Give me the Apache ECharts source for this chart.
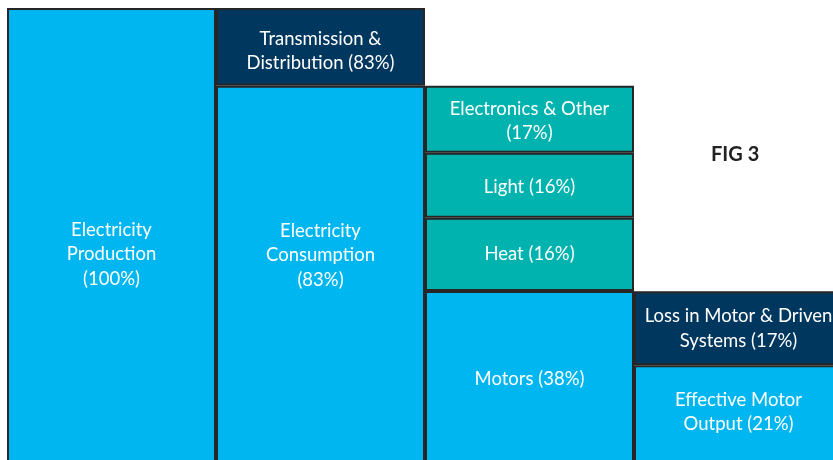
<!DOCTYPE html>
<html>
<head>
<meta charset="utf-8">
<script src="https://cdn.jsdelivr.net/npm/echarts@6/dist/echarts.min.js"></script>
<style>
  html, body { margin: 0; padding: 0; background: #fff; }
  #chart { width: 833px; height: 460px; }
</style>
</head>
<body>
<div id="chart"></div>
<script>
// stages of the flow (left to right)
const categories = ['Production', 'Consumption', 'End Use', 'Motor Output']

// stacked layers, bottom to top (share of production)
const baseValues = [100, 83, 38.1, 21.8]
const layer2Values = ['-', 17, 16, 16.2]
const layer3Values = ['-', '-', 14.2, '-']
const layer4Values = ['-', '-', 14.7, '-']

const baseLabels = ['Electricity\nProduction\n(100%)', 'Electricity\nConsumption\n(83%)', 'Motors (38%)', 'Effective Motor\nOutput (21%)']
const layer2Labels = ['', 'Transmission &\nDistribution (83%)', 'Heat (16%)', 'Loss in Motor & Driven\nSystems (17%)']
const layer3Labels = ['', '', 'Light (16%)', '']
const layer4Labels = ['', '', 'Electronics & Other\n(17%)', '']

const BLUE = '#00B6F0'
const NAVY = '#00375F'
const TEAL = '#00B3AF'

const baseColors = [BLUE, BLUE, BLUE, BLUE]
const layer2Colors = [null, NAVY, TEAL, NAVY]
const layer3Colors = [null, null, TEAL, null]
const layer4Colors = [null, null, TEAL, null]

// vertical nudge of labels inside the boxes
const baseOffsets = [18, -20, 1, -3]
const layer2Offsets = [0, 4, 0, 0]
const layer3Offsets = [0, 0, 2, 0]
const layer4Offsets = [0, 0, 2, 0]

const chart = echarts.init(document.getElementById('chart'))

function buildData(values, labels, colors, offsets) {
  return values.map((v, i) => {
    if (v === '-') return '-'
    return {
      value: v,
      itemStyle: { color: colors[i] },
      label: {
        formatter: labels[i],
        offset: [0, offsets[i]]
      }
    }
  })
}

function layer(name, values, labels, colors, offsets) {
  return {
    name: name,
    type: 'bar',
    stack: 'flow',
    barCategoryGap: '0%',
    barWidth: '100%',
    clip: false,
    itemStyle: {
      borderColor: '#262626',
      borderWidth: 2
    },
    label: {
      show: true,
      position: 'inside',
      color: '#fff',
      fontFamily: 'Lato',
      fontSize: 18.5,
      lineHeight: 24.5
    },
    data: buildData(values, labels, colors, offsets)
  }
}

const option = {
  animation: false,
  title: {
    text: 'FIG 3',
    left: 706,
    top: 140,
    textStyle: {
      color: '#222',
      fontFamily: 'Lato',
      fontWeight: 'bold',
      fontSize: 20
    }
  },
  grid: {
    left: 7,
    right: -10,
    top: 8,
    bottom: -5,
    outerBoundsMode: 'none'
  },
  xAxis: {
    type: 'category',
    data: categories,
    show: false
  },
  yAxis: {
    type: 'value',
    min: 0,
    max: 100,
    show: false
  },
  series: [
    layer('base', baseValues, baseLabels, baseColors, baseOffsets),
    layer('layer2', layer2Values, layer2Labels, layer2Colors, layer2Offsets),
    layer('layer3', layer3Values, layer3Labels, layer3Colors, layer3Offsets),
    layer('layer4', layer4Values, layer4Labels, layer4Colors, layer4Offsets)
  ]
}

chart.setOption(option)
</script>
</body>
</html>
